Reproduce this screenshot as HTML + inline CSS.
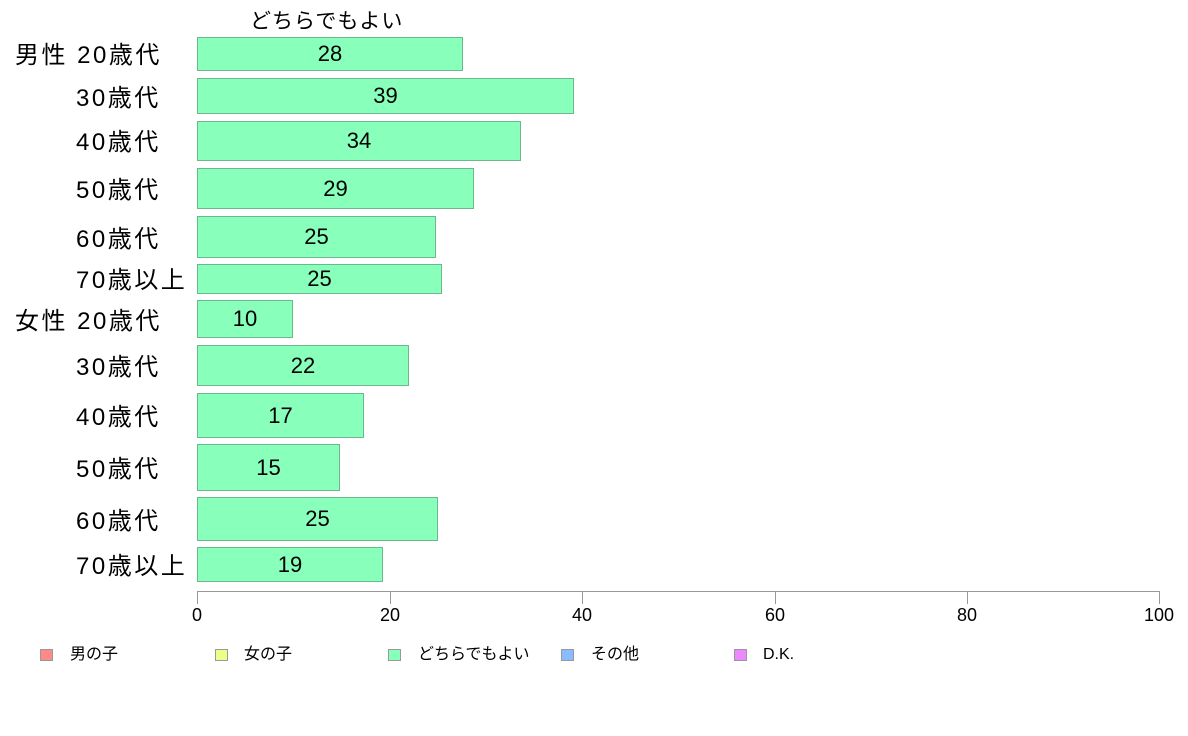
<!DOCTYPE html>
<html><head><meta charset="utf-8"><style>
body{margin:0;width:1188px;height:736px;background:#fff;position:relative;overflow:hidden;font-family:"Liberation Sans","Noto Sans CJK JP",sans-serif;color:#000}
.b{position:absolute;left:197px;background:#88ffbb;border:1px solid #6cb88c;box-sizing:border-box;font-size:22px;display:flex;align-items:center;justify-content:center}
.l{position:absolute;font-size:24px;letter-spacing:2.5px;line-height:30px;white-space:nowrap;transform:translateY(calc(-50% + 2px))}
.t{position:absolute;top:605px;font-size:18px;transform:translateX(-50%)}
.k{position:absolute;top:649px;width:13px;height:12px;border:1px solid #999;box-sizing:border-box}
.kt{position:absolute;top:645px;font-size:16px;line-height:20px}
</style></head><body>
<div style="position:absolute;left:250px;top:5px;font-size:21px;letter-spacing:1px">どちらでもよい</div>
<div class="b" style="top:37px;height:34px;width:266px">28</div>
<div class="b" style="top:78px;height:36px;width:377px">39</div>
<div class="b" style="top:121px;height:40px;width:324px">34</div>
<div class="b" style="top:168px;height:41px;width:277px">29</div>
<div class="b" style="top:216px;height:42px;width:239px">25</div>
<div class="b" style="top:264px;height:30px;width:245px">25</div>
<div class="b" style="top:300px;height:38px;width:96px">10</div>
<div class="b" style="top:345px;height:41px;width:212px">22</div>
<div class="b" style="top:393px;height:45px;width:167px">17</div>
<div class="b" style="top:444px;height:47px;width:143px">15</div>
<div class="b" style="top:497px;height:44px;width:241px">25</div>
<div class="b" style="top:547px;height:35px;width:186px">19</div>
<div class="l" style="left:15px;top:54px">男性 20歳代</div>
<div class="l" style="left:76px;top:97px">30歳代</div>
<div class="l" style="left:76px;top:141px">40歳代</div>
<div class="l" style="left:76px;top:189px">50歳代</div>
<div class="l" style="left:76px;top:238px">60歳代</div>
<div class="l" style="left:76px;top:279px">70歳以上</div>
<div class="l" style="left:15px;top:320px">女性 20歳代</div>
<div class="l" style="left:76px;top:366px">30歳代</div>
<div class="l" style="left:76px;top:416px">40歳代</div>
<div class="l" style="left:76px;top:468px">50歳代</div>
<div class="l" style="left:76px;top:520px">60歳代</div>
<div class="l" style="left:76px;top:565px">70歳以上</div>
<svg style="position:absolute;left:0;top:0" width="1188" height="736">
<g stroke="#999" stroke-width="1">
<line x1="197" y1="591.5" x2="1160" y2="591.5"/>
<line x1="197.5" y1="591" x2="197.5" y2="604"/>
<line x1="390.5" y1="591" x2="390.5" y2="604"/>
<line x1="582.5" y1="591" x2="582.5" y2="604"/>
<line x1="775.5" y1="591" x2="775.5" y2="604"/>
<line x1="967.5" y1="591" x2="967.5" y2="604"/>
<line x1="1159.5" y1="591" x2="1159.5" y2="604"/>
</g></svg>
<div class="t" style="left:197px">0</div>
<div class="t" style="left:390px">20</div>
<div class="t" style="left:582px">40</div>
<div class="t" style="left:775px">60</div>
<div class="t" style="left:967px">80</div>
<div class="t" style="left:1159px">100</div>
<div class="k" style="left:40px;background:#ff8888"></div><div class="kt" style="left:70px">男の子</div>
<div class="k" style="left:215px;background:#eeff88"></div><div class="kt" style="left:244px">女の子</div>
<div class="k" style="left:388px;background:#88ffbb"></div><div class="kt" style="left:418px">どちらでもよい</div>
<div class="k" style="left:561px;background:#88bbff"></div><div class="kt" style="left:591px">その他</div>
<div class="k" style="left:734px;background:#ee88ff"></div><div class="kt" style="left:763px">D.K.</div>
</body></html>
